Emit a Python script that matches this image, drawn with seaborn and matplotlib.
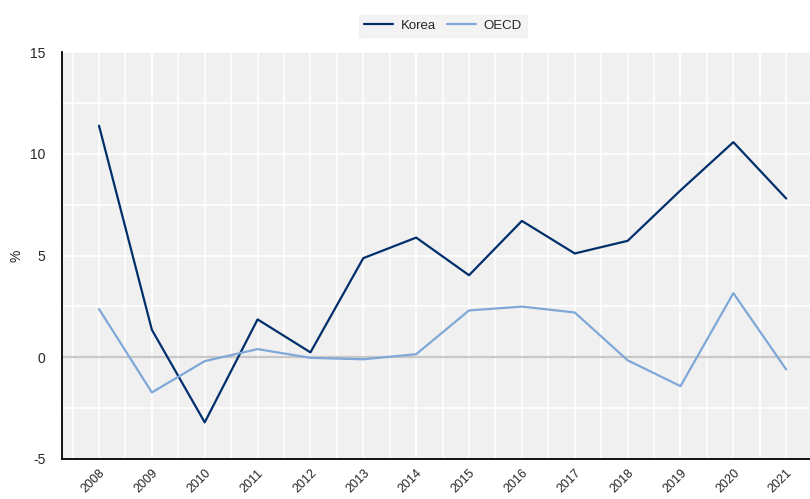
import numpy as np
import pandas as pd
import matplotlib
matplotlib.use('Agg')
import matplotlib.pyplot as plt
from matplotlib.ticker import MultipleLocator
import seaborn as sns

# ── data ─────────────────────────────────────────────
years = list(range(2008, 2022))
korea = [11.38, 1.35, -3.2, 1.86, 0.24, 4.87, 5.88, 4.03, 6.7, 5.1, 5.72, 8.2, 10.57, 7.8]
oecd = [2.37, -1.73, -0.19, 0.4, -0.03, -0.1, 0.15, 2.3, 2.49, 2.2, -0.15, -1.42, 3.15, -0.6]

df = pd.DataFrame({'year': years * 2,
                   'value': korea + oecd,
                   'series': ['Korea'] * len(years) + ['OECD'] * len(years)})

PALETTE = {'Korea': '#002f6c', 'OECD': '#7fa8d9'}

sns.set_theme(style='white')
plt.rcParams['font.family'] = ['Liberation Sans Narrow', 'Liberation Sans', 'DejaVu Sans']
plt.rcParams['axes.unicode_minus'] = False

fig = plt.figure(figsize=(8.1, 4.99), dpi=100)
ax = fig.add_axes([62 / 810, 40 / 499, 748 / 810, 407 / 499])
ax.set_facecolor('#f0f0f0')

sns.lineplot(data=df, x='year', y='value', hue='series', palette=PALETTE,
             linewidth=1.6, ax=ax, legend=False)

ax.set_xlim(2007.3, 2021.45)
ax.set_ylim(-5, 15)
ax.set_xticks(years)
ax.set_xticklabels([str(y) for y in years], rotation=45, ha='right',
                   rotation_mode='anchor', fontsize=9)
ax.xaxis.set_minor_locator(MultipleLocator(0.5))
ax.yaxis.set_major_locator(MultipleLocator(5))
ax.yaxis.set_minor_locator(MultipleLocator(2.5))
ax.tick_params(axis='y', labelsize=10, pad=12)
ax.grid(which='both', color='white', linewidth=1.2)
ax.set_axisbelow(True)
ax.axhline(0, color='#c8c8c8', linewidth=1.6, zorder=1.5)

ax.tick_params(which='major', direction='in', length=4, width=1, color='black')
ax.tick_params(which='minor', length=0)
ax.tick_params(axis='x', pad=6)

for s in ['top', 'right']:
    ax.spines[s].set_visible(False)
for s in ['left', 'bottom']:
    ax.spines[s].set_color('black')
    ax.spines[s].set_linewidth(1.3)

ax.set_xlabel('')
ax.set_ylabel('%', fontsize=10)
ax.yaxis.set_label_coords(-0.052, 0.5)

handles = [plt.Line2D([], [], color=PALETTE[k], linewidth=1.6) for k in ['Korea', 'OECD']]
leg = fig.legend(handles, ['Korea', 'OECD'], loc='center', bbox_to_anchor=(443 / 810, 1 - 26 / 499),
                 ncol=2, frameon=True, fontsize=9.5, handlelength=2.2, columnspacing=0.8,
                 handletextpad=0.6, borderpad=0.4)
leg.get_frame().set_facecolor('#f0f0f0')
leg.get_frame().set_edgecolor('#f0f0f0')
leg.get_frame().set_boxstyle('square', pad=0)

fig.savefig('out.png', dpi=100)
